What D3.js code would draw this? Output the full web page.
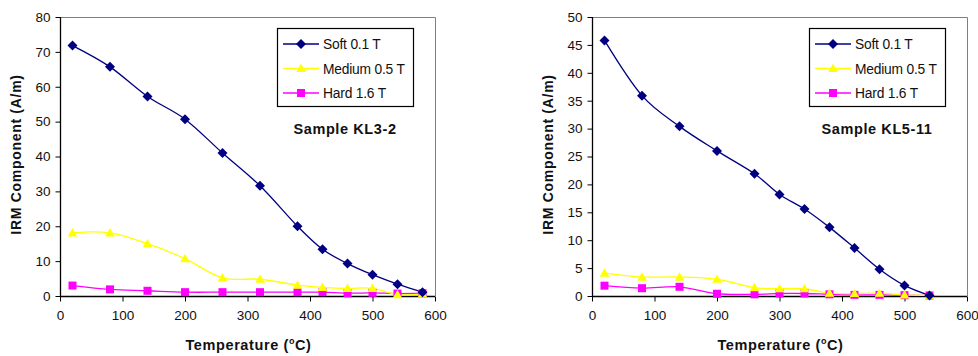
<!DOCTYPE html>
<html><head><meta charset="utf-8">
<script src="https://cdn.jsdelivr.net/npm/d3@7/dist/d3.min.js"></script>
<style>
html,body{margin:0;padding:0;background:#fff;}
svg text{font-family:"Liberation Sans",Arial,sans-serif;}
</style></head>
<body><svg id="c" width="978" height="356"></svg>
<script>
// ---- data ----
const seriesNames = ["Soft 0.1 T", "Medium 0.5 T", "Hard 1.6 T"];
const xTicks = [0, 100, 200, 300, 400, 500, 600];

const temps1 = [20, 80, 140, 200, 260, 320, 380, 420, 460, 500, 540, 580];
const soft1 = [71.8, 65.7, 57.2, 50.7, 41.0, 31.6, 20.0, 13.4, 9.3, 6.1, 3.4, 1.1];
const medium1 = [18.1, 18.1, 15.0, 10.7, 5.2, 4.8, 3.1, 2.5, 2.2, 2.2, 0.4, 0.6];
const hard1 = [3.0, 1.9, 1.5, 1.1, 1.1, 1.1, 1.1, 1.1, 0.8, 0.9, 0.7, 0.8];
const yTicks1 = [0, 10, 20, 30, 40, 50, 60, 70, 80];
const title1 = "Sample KL3-2";

const temps2 = [20, 80, 140, 200, 260, 300, 340, 380, 420, 460, 500, 540];
const soft2 = [45.8, 35.9, 30.4, 26.0, 21.9, 18.2, 15.6, 12.3, 8.6, 4.8, 1.9, 0.1];
const medium2 = [4.1, 3.4, 3.4, 3.0, 1.5, 1.3, 1.3, 0.5, 0.45, 0.5, 0.2, 0.1];
const hard2 = [1.85, 1.4, 1.65, 0.4, 0.3, 0.45, 0.45, 0.3, 0.2, 0.2, 0.15, 0.1];
const yTicks2 = [0, 5, 10, 15, 20, 25, 30, 35, 40, 45, 50];
const title2 = "Sample KL5-11";

const colors = ["#000080", "#FFFF00", "#FF00FF"];

// marker shapes (path generators, centred at origin)
function marker(i) {
  if (i === 0) return "M0,-5L5,0L0,5L-5,0Z";           // diamond
  if (i === 1) return "M0,-4.8L4.8,3.6L-4.8,3.6Z";       // triangle
  return "M-4,-4H4V4H-4Z";                                // square
}

const svg = d3.select("#c");

function drawChart(ox, temps, s, m, h, yTicks, title) {
  const W = 375, H = 279, top = 17;
  const g = svg.append("g").attr("transform", `translate(${ox},${top})`);
  const x = d3.scaleLinear().domain([0, 600]).range([0, W]);
  const y = d3.scaleLinear().domain([0, yTicks[yTicks.length - 1]]).range([H, 0]);

  // plot border (top & right grey)
  g.append("path").attr("d", `M0,0.5H${W + 0.5}V${H}`).attr("fill", "none").attr("stroke", "#808080").attr("stroke-width", 1);

  const yAxis = g.append("g").attr("transform", "translate(0.5,0)")
    .call(d3.axisLeft(y).tickValues(yTicks).tickSize(5).tickPadding(5).tickFormat(d3.format("d")));
  const xAxis = g.append("g").attr("transform", `translate(0,${H + 0.5})`)
    .call(d3.axisBottom(x).tickValues(xTicks).tickSize(5).tickPadding(9).tickFormat(d3.format("d")));
  [yAxis, xAxis].forEach(a => {
    a.select(".domain").attr("stroke", "#000").attr("stroke-width", 1.3);
    a.selectAll(".tick line").attr("stroke", "#000");
    a.selectAll("text").attr("font-size", 13.5).attr("fill", "#111").attr("font-family", "Liberation Sans, Arial, sans-serif");
  });
  yAxis.select(".domain").attr("d", `M0,${H}V0`);
  xAxis.select(".domain").attr("d", `M0,0H${W}`);

  const series = [s, m, h];
  const line = d3.line().x(d => x(d[0])).y(d => y(d[1])).curve(d3.curveCardinal.tension(0));
  [2, 1, 0].forEach(i => {
    const pts = temps.map((t, k) => [t, series[i][k]]);
    g.append("path").datum(pts).attr("d", line).attr("fill", "none").attr("stroke", colors[i]).attr("stroke-width", 1.3);
  });
  [2, 1, 0].forEach(i => {
    const pts = temps.map((t, k) => [t, series[i][k]]);
    g.selectAll(null).data(pts).enter().append("path")
      .attr("d", marker(i))
      .attr("transform", d => `translate(${x(d[0])},${y(d[1])})`)
      .attr("fill", colors[i]);
  });

  // legend
  const lx = W - 158, ly = 11;
  const lg = g.append("g").attr("transform", `translate(${lx},${ly})`);
  lg.append("rect").attr("x", 0.5).attr("y", 0.5).attr("width", 136).attr("height", 78)
    .attr("fill", "#fff").attr("stroke", "#000").attr("stroke-width", 1.2);
  seriesNames.forEach((n, i) => {
    const ry = 16 + i * 24.5;
    lg.append("line").attr("x1", 6).attr("x2", 42).attr("y1", ry).attr("y2", ry).attr("stroke", colors[i]).attr("stroke-width", 1.3);
    lg.append("path").attr("d", marker(i)).attr("transform", `translate(24,${ry})`).attr("fill", colors[i]);
    lg.append("text").attr("x", 46).attr("y", ry + 5).attr("font-size", 13.8).attr("letter-spacing", -0.2).attr("fill", "#111").text(n);
  });

  g.append("text").attr("x", W - 90).attr("y", 116.5).attr("text-anchor", "middle")
    .attr("font-size", 14.5).attr("font-weight", "bold").attr("letter-spacing", 0.6).attr("fill", "#111").text(title);

  const xt = g.append("text").attr("x", W / 2 + 1).attr("y", H + 54).attr("text-anchor", "middle")
    .attr("font-size", 14.5).attr("font-weight", "bold").attr("letter-spacing", 0.6).attr("fill", "#111");
  xt.append("tspan").text("Temperature (");
  xt.append("tspan").attr("font-size", 9).attr("dy", -6).text("o");
  xt.append("tspan").attr("dy", 6).text("C)");

  g.append("text").attr("transform", `translate(-39,${H / 2 - 2}) rotate(-90)`).attr("text-anchor", "middle")
    .attr("font-size", 14).attr("font-weight", "bold").attr("letter-spacing", 0.7).attr("fill", "#111").text("IRM Component (A/m)");
}

drawChart(60, temps1, soft1, medium1, hard1, yTicks1, title1);
drawChart(592, temps2, soft2, medium2, hard2, yTicks2, title2);
</script></body></html>
